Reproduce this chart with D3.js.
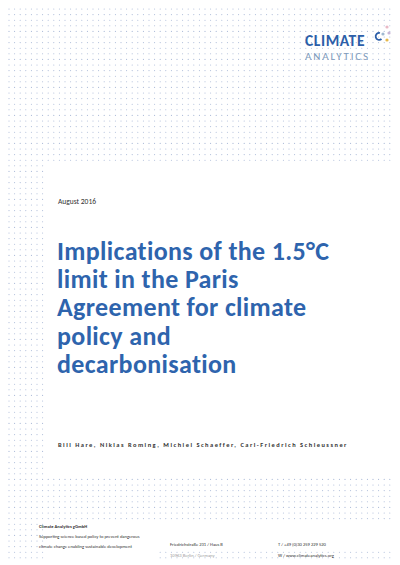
<!DOCTYPE html>
<html><head><meta charset="utf-8">
<script src="https://cdn.jsdelivr.net/npm/d3@7"></script>
<style>body{margin:0;background:#fff}</style></head>
<body><div id="page"></div>
<script>
const width = 400, height = 565;
const titleLines = ["Implications of the 1.5°C", "limit in the Paris", "Agreement for climate", "policy and", "decarbonisation"];
const dateLabel = "August 2016";
const authors = "Bill Hare, Niklas Roming, Michiel Schaeffer, Carl-Friedrich Schleussner";
const footerLeft = ["Supporting science based policy to prevent dangerous", "climate change enabling sustainable development"];
const footerAddr = ["Friedrichstraße 231 / Haus B", "10963 Berlin / Germany"];
const footerContact = ["T  /  +49 (0)30 259 229 520", "W  /  www.climateanalytics.org"];

const svg = d3.select("#page").append("svg")
  .attr("width", width).attr("height", height)
  .style("font-family", "Carlito, 'Open Sans', sans-serif");

// dotted grid regions
const step = 5.6;
const cols = d3.range(9, 391, step), rows = d3.range(9, 561, step);
const dots = [];
for (const y of rows) for (const x of cols) {
  const top = y < 162;
  const strip = x < 45 && y < 562;
  const band = y > 476 && y < 522;
  const tail = y > 550 && x > 160;
  if (top || strip || band || tail) dots.push([x, y]);
}
svg.append("g").selectAll("circle").data(dots).join("circle")
  .attr("cx", d => d[0]).attr("cy", d => d[1]).attr("r", 0.55)
  .attr("fill", "#a9b8d6");

// logo
svg.append("text").attr("x", 305).attr("y", 46).attr("font-size", 15.5)
  .attr("font-weight", 700).attr("fill", "#2c5ea8").attr("letter-spacing", 0.6).text("CLIMATE");
svg.append("text").attr("x", 305).attr("y", 59.5).attr("font-size", 11)
  .attr("fill", "#7d9abb").attr("letter-spacing", 1.9).text("ANALYTICS");
const logoDots = [[387, 27, "#e9b9c6"], [389, 33, "#c8b6d6"], [387, 40, "#e6b84a"], [383, 34, "#9fb8d0"]];
svg.append("g").selectAll("circle").data(logoDots).join("circle")
  .attr("cx", d => d[0]).attr("cy", d => d[1]).attr("r", 1.6).attr("fill", d => d[2]);
svg.append("path").attr("d", "M380,33 a3.5,3.5 0 1,0 1.5,6").attr("fill", "none")
  .attr("stroke", "#2c5ea8").attr("stroke-width", 1.8);

svg.append("text").attr("x", 58).attr("y", 204).attr("font-size", 7.5)
  .attr("fill", "#333").text(dateLabel);

svg.append("g").selectAll("text").data(titleLines).join("text")
  .attr("x", 57).attr("y", (d, i) => 260 + i * 28.2)
  .attr("font-size", 26).attr("font-weight", 700).attr("fill", "#2e64ad")
  .attr("letter-spacing", 0.35)
  .text(d => d);

svg.append("text").attr("x", 58).attr("y", 447).attr("font-size", 6.4)
  .attr("font-weight", 700).attr("fill", "#333").attr("letter-spacing", 1.5).text(authors);

const foot = svg.append("g").attr("font-size", 4.6).attr("fill", "#333");
foot.append("text").attr("x", 39).attr("y", 528).attr("font-weight", 700).text("Climate Analytics gGmbH");
foot.selectAll(".fl").data(footerLeft).join("text").attr("class", "fl")
  .attr("x", 39).attr("y", (d, i) => 538 + i * 10).text(d => d);
foot.selectAll(".fa").data(footerAddr).join("text").attr("class", "fa")
  .attr("x", 170).attr("y", (d, i) => 546 + i * 11).attr("opacity", (d, i) => i ? 0.5 : 1).text(d => d);
foot.selectAll(".fc").data(footerContact).join("text").attr("class", "fc")
  .attr("x", 278).attr("y", (d, i) => 546 + i * 11).text(d => d);
</script></body></html>
